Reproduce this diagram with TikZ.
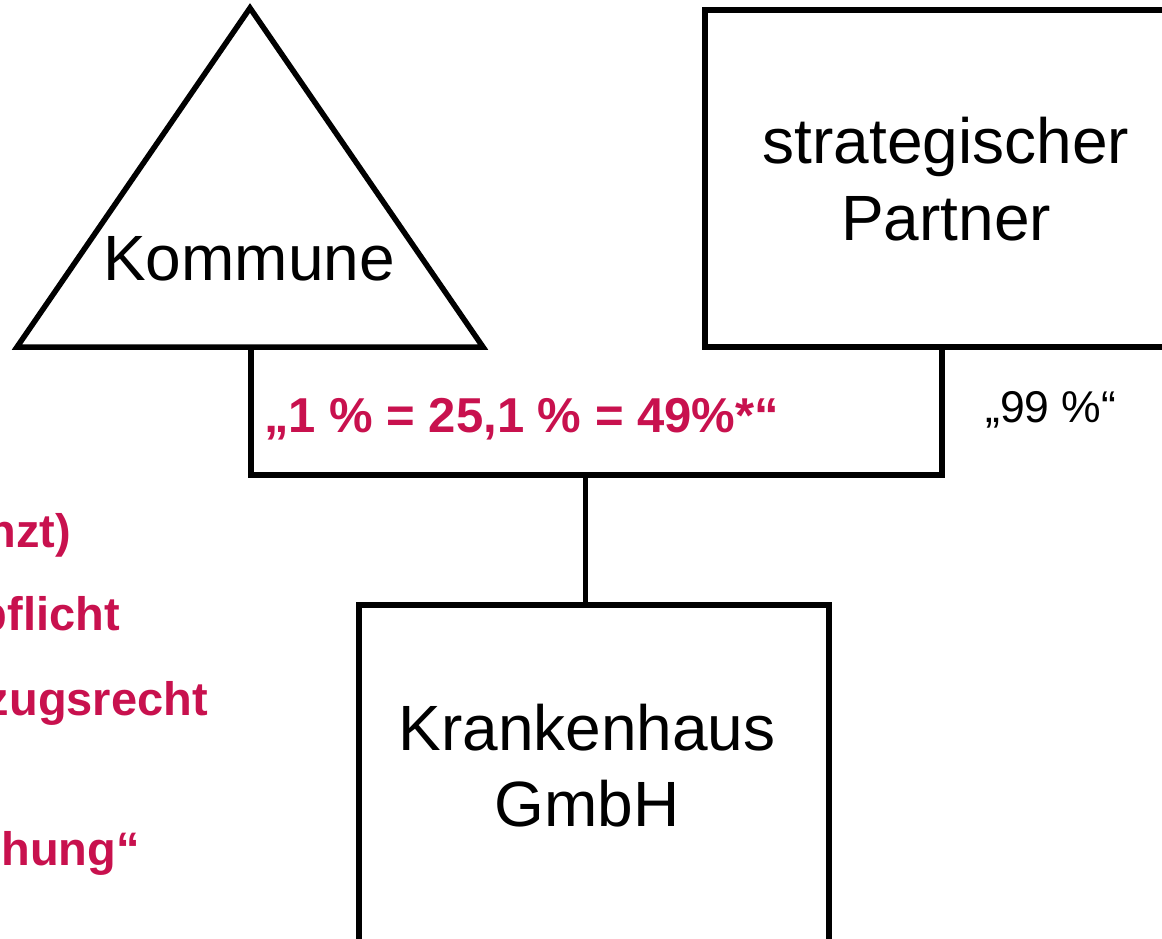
\documentclass[tikz,border=0pt]{standalone}
\usepackage{fontspec}
\setmainfont{Liberation Sans}
\definecolor{crimson}{RGB}{200,17,78}
\begin{document}
\begin{tikzpicture}[x=1pt,y=-1pt,
  line/.style={line width=5.5pt, draw=black},
  big/.style={font=\fontsize{64}{76}\selectfont, inner sep=0pt},
  redlbl/.style={font=\fontsize{49}{58}\selectfont\bfseries, text=crimson, inner sep=0pt},
  sidelbl/.style={redlbl, font=\fontsize{47}{56}\selectfont\bfseries},
  pct/.style={font=\fontsize{44.5}{53}\selectfont, inner sep=0pt},
  boxnode/.style={line, rectangle, inner sep=0pt, outer sep=0pt}]
\useasboundingbox (0,0) rectangle (1162,938);
% Kommune triangle
\draw[line, line join=miter] (250,8) -- (483,347) -- (17,347) -- cycle;
\node[big, anchor=base] (kommune) at (249,280) {Kommune};
\coordinate (kbase) at (251,347);
% strategic partner box
\node[boxnode, minimum width=484pt, minimum height=337pt] (partner) at (947,178.5) {};
\node[big, anchor=base] (partner1) at (946,163) {strategischer};
\node[big, anchor=base] (partner2) at (946,240) {Partner};
\coordinate (pbase) at (942,347);
% Krankenhaus box
\node[boxnode, minimum width=470pt, minimum height=420pt, anchor=north west] (kh) at (359,605) {};
\node[big, anchor=base] (kh1) at (587,750) {Krankenhaus};
\node[big, anchor=base] (kh2) at (587,826) {GmbH};
% connectors
\coordinate (jn) at (585.5,475);
\draw[line] (kbase) |- (jn) -| (pbase);
\draw[line] (jn) -- (jn |- kh.north);
% labels
\node[redlbl, anchor=base west] (share) at (264,432) {„1 \% = 25,1 \% = 49\%*“};
\node[pct, anchor=base west] (pshare) at (985,422) {„99 \%“};
% cut-off left texts
\node[sidelbl, anchor=base east] (t1) at (71,547) {nzt)};
\node[sidelbl, anchor=base east] (t2) at (120,630) {pflicht};
\node[sidelbl, anchor=base east] (t3) at (208,715) {zugsrecht};
\node[sidelbl, anchor=base east] (t4) at (140,865) {hung“};
\end{tikzpicture}
\end{document}
